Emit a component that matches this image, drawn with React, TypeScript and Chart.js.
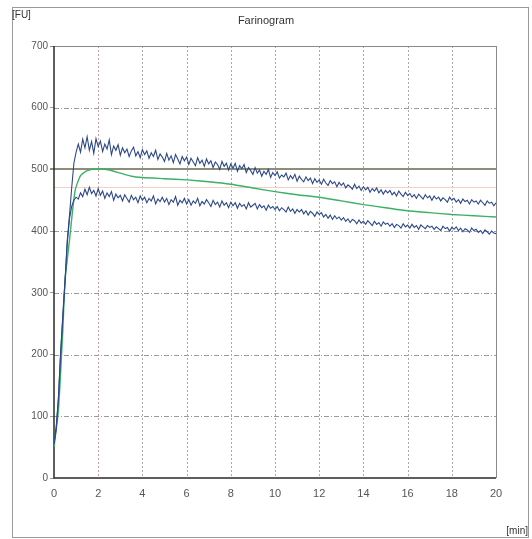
import React, { useEffect, useRef } from "react";
import { Chart, registerables } from "chart.js";
Chart.register(...registerables);

const titleText = "Farinogram";
const yUnit = "[FU]";
const xUnit = "[min]";
const yGridValues = [100, 200, 300, 400, 500, 600];
const xGridValues = [2, 4, 6, 8, 10, 12, 14, 16, 18];
const consistencyLine = 500;
const toleranceLine = 472;

const times = [
  0,
  0.1, 0.2, 0.3, 0.4, 0.5, 0.6, 0.7, 0.8, 0.9, 1.0,
  1.1, 1.2, 1.3, 1.4, 1.5, 1.6, 1.7, 1.8, 1.9, 2.0,
  2.1, 2.2, 2.3, 2.4, 2.5, 2.6, 2.7, 2.8, 2.9, 3.0,
  3.1, 3.2, 3.3, 3.4, 3.5, 3.6, 3.7, 3.8, 3.9, 4.0,
  4.1, 4.2, 4.3, 4.4, 4.5, 4.6, 4.7, 4.8, 4.9, 5.0,
  5.1, 5.2, 5.3, 5.4, 5.5, 5.6, 5.7, 5.8, 5.9, 6.0,
  6.1, 6.2, 6.3, 6.4, 6.5, 6.6, 6.7, 6.8, 6.9, 7.0,
  7.1, 7.2, 7.3, 7.4, 7.5, 7.6, 7.7, 7.8, 7.9, 8.0,
  8.1, 8.2, 8.3, 8.4, 8.5, 8.6, 8.7, 8.8, 8.9, 9.0,
  9.1, 9.2, 9.3, 9.4, 9.5, 9.6, 9.7, 9.8, 9.9, 10.0,
  10.1, 10.2, 10.3, 10.4, 10.5, 10.6, 10.7, 10.8, 10.9, 11.0,
  11.1, 11.2, 11.3, 11.4, 11.5, 11.6, 11.7, 11.8, 11.9, 12.0,
  12.1, 12.2, 12.3, 12.4, 12.5, 12.6, 12.7, 12.8, 12.9, 13.0,
  13.1, 13.2, 13.3, 13.4, 13.5, 13.6, 13.7, 13.8, 13.9, 14.0,
  14.1, 14.2, 14.3, 14.4, 14.5, 14.6, 14.7, 14.8, 14.9, 15.0,
  15.1, 15.2, 15.3, 15.4, 15.5, 15.6, 15.7, 15.8, 15.9, 16.0,
  16.1, 16.2, 16.3, 16.4, 16.5, 16.6, 16.7, 16.8, 16.9, 17.0,
  17.1, 17.2, 17.3, 17.4, 17.5, 17.6, 17.7, 17.8, 17.9, 18.0,
  18.1, 18.2, 18.3, 18.4, 18.5, 18.6, 18.7, 18.8, 18.9, 19.0,
  19.1, 19.2, 19.3, 19.4, 19.5, 19.6, 19.7, 19.8, 19.9, 20.0,
];

const upperBand = [
  55,
  80, 130, 200, 265, 320, 385, 425, 470, 510, 528,
  541, 528, 549, 535, 553, 531, 545, 526, 550, 537,
  546, 529, 541, 533, 548, 524, 538, 531, 540, 523,
  535, 527, 533, 521, 530, 536, 522, 529, 519, 532,
  524, 530, 518, 527, 521, 531, 516, 525, 520, 513,
  526, 515, 522, 511, 524, 517, 509, 521, 514, 520,
  508, 518, 512, 506, 519, 510, 515, 505, 517, 509,
  514, 503, 512, 508, 500, 513, 505, 510, 499, 509,
  502, 510, 497, 506, 501, 508, 495, 503, 498, 492,
  503, 494, 499, 489, 497, 492, 500, 487, 495, 490,
  496, 486, 491, 488, 494, 483, 490, 485, 492, 481,
  489, 484, 480, 488, 482, 486, 477, 485, 479, 483,
  476, 484, 478, 474, 482, 477, 480, 472, 479, 474,
  478, 470, 475, 472, 468, 476, 469, 473, 466, 472,
  467, 471, 463, 469, 465, 470, 462, 467, 460, 466,
  462, 466, 459, 463, 457, 465, 460, 456, 463, 458,
  461, 455, 459, 453, 460, 456, 452, 459, 454, 457,
  450, 457, 452, 455, 449, 454, 451, 447, 455, 450,
  453, 447, 451, 445, 452, 448, 450, 444, 451, 447,
  449, 444, 450, 446, 442, 449, 445, 447, 441, 446,
];

const lowerBand = [
  55,
  82, 128, 205, 260, 318, 380, 420, 440, 450, 455,
  452, 462, 456, 468, 459, 471, 461, 466, 457, 469,
  458, 465, 453, 462, 456, 464, 450, 460, 454, 458,
  449, 459, 453, 447, 458, 451, 455, 446, 457, 450,
  455, 446, 453, 449, 457, 444, 452, 448, 455, 447,
  453, 443, 451, 447, 456, 442, 450, 446, 453, 444,
  451, 442, 449, 445, 453, 441, 448, 444, 451, 446,
  440, 450, 443, 447, 439, 449, 442, 446, 438, 447,
  441, 446, 437, 445, 440, 443, 436, 446, 439, 442,
  445, 436, 443, 438, 441, 434, 442, 437, 440, 435,
  440, 433, 438, 435, 431, 439, 432, 436, 429, 435,
  431, 435, 428, 433, 426, 432, 429, 424, 431, 427,
  430, 423, 427, 421, 426, 419, 425, 420, 423, 418,
  422, 416, 420, 414, 419, 417, 412, 418, 413, 416,
  411, 417, 413, 409, 416, 411, 414, 408, 415, 411,
  413, 408, 412, 406, 411, 409, 405, 412, 407, 410,
  405, 411, 406, 409, 403, 410, 407, 404, 409, 406,
  408, 403, 407, 404, 401, 408, 404, 406, 400, 406,
  403, 407, 401, 405, 399, 404, 402, 398, 405, 401,
  403, 398, 401, 396, 402, 399, 395, 400, 397, 396,
];

const medianTimes = [
  0, 0.2, 0.4, 0.5, 0.7, 0.95, 1.2, 1.5, 2, 2.5, 3, 3.5, 4, 5, 6, 7, 8, 9, 10,
  11, 12, 13, 14, 15, 16, 17, 18, 19, 20,
];
const medianCurve = [
  50, 110, 240, 320, 385, 465, 490, 498, 501, 499, 494, 489, 487, 485, 483,
  480, 476, 470, 464, 459, 455, 449, 443, 438, 433, 430, 427, 425, 423,
];

const FONT = "'Liberation Sans Narrow', 'Arial Narrow', 'Liberation Sans', sans-serif";

const decorPlugin = {
  id: "decor",
  beforeDatasetsDraw(chart: any) {
    const { ctx, chartArea: a, scales } = chart;
    const x = scales.x;
    const y = scales.y;
    ctx.save();
    ctx.lineWidth = 1;
    ctx.strokeStyle = "#9a9a9a";
    ctx.setLineDash([5, 2, 1, 2]);
    for (const v of yGridValues) {
      const py = Math.round(y.getPixelForValue(v)) + 0.5;
      ctx.beginPath();
      ctx.moveTo(a.left, py);
      ctx.lineTo(a.right, py);
      ctx.stroke();
    }
    ctx.setLineDash([2, 2]);
    for (const v of xGridValues) {
      const px = Math.round(x.getPixelForValue(v)) + 0.5;
      ctx.strokeStyle = v === 2 ? "#c9a0a8" : "#a8a8a8";
      ctx.beginPath();
      ctx.moveTo(px, a.top);
      ctx.lineTo(px, a.bottom);
      ctx.stroke();
    }
    ctx.setLineDash([]);
    ctx.strokeStyle = "#f2d2c4";
    let py = Math.round(y.getPixelForValue(toleranceLine)) + 0.5;
    ctx.beginPath();
    ctx.moveTo(a.left, py);
    ctx.lineTo(a.right, py);
    ctx.stroke();
    ctx.strokeStyle = "#8e8e78";
    ctx.lineWidth = 2;
    py = Math.round(y.getPixelForValue(consistencyLine));
    ctx.beginPath();
    ctx.moveTo(a.left - 4, py);
    ctx.lineTo(a.right, py);
    ctx.stroke();
    ctx.lineWidth = 1;
    ctx.strokeStyle = "#8a8a8a";
    ctx.beginPath();
    ctx.moveTo(a.left - 4, Math.round(a.top) + 0.5);
    ctx.lineTo(a.right, Math.round(a.top) + 0.5);
    ctx.moveTo(Math.round(a.right) + 0.5, a.top);
    ctx.lineTo(Math.round(a.right) + 0.5, a.bottom);
    ctx.stroke();
    ctx.strokeStyle = "#2a2a2a";
    ctx.lineWidth = 1.5;
    ctx.beginPath();
    ctx.moveTo(a.left, a.top);
    ctx.lineTo(a.left, a.bottom);
    ctx.lineTo(a.right, a.bottom);
    ctx.stroke();
    ctx.restore();
  },
  afterDraw(chart: any) {
    const { ctx } = chart;
    ctx.save();
    ctx.strokeStyle = "#9a9a9a";
    ctx.lineWidth = 1;
    ctx.strokeRect(12.5, 7.5, 516, 530);
    ctx.fillStyle = "#333";
    ctx.font = `10px ${FONT}`;
    ctx.textBaseline = "middle";
    ctx.textAlign = "left";
    ctx.fillText(yUnit, 12, 15);
    ctx.textAlign = "right";
    ctx.fillText(xUnit, 528, 531);
    ctx.restore();
  },
};

export default function App() {
  const ref = useRef<HTMLCanvasElement>(null);
  useEffect(() => {
    if (!ref.current) return;
    const chart = new Chart(ref.current, {
      type: "line",
      data: {
        datasets: [
          {
            label: "upper",
            data: times.map((t, i) => ({ x: t, y: upperBand[i] })),
            borderColor: "#2d4889",
            borderWidth: 1.1,
            pointRadius: 0,
            tension: 0,
          },
          {
            label: "lower",
            data: times.map((t, i) => ({ x: t, y: lowerBand[i] })),
            borderColor: "#2d4889",
            borderWidth: 1.1,
            pointRadius: 0,
            tension: 0,
          },
          {
            label: "median",
            data: medianTimes.map((t, i) => ({ x: t, y: medianCurve[i] })),
            borderColor: "#3cb067",
            borderWidth: 1.4,
            pointRadius: 0,
            tension: 0.2,
          },
        ],
      },
      options: {
        responsive: false,
        animation: false,
        layout: { padding: { left: 0, right: 0, top: 0, bottom: 0 } },
        plugins: {
          legend: { display: false },
          tooltip: { enabled: false },
          title: {
            display: true,
            text: titleText,
            color: "#333",
            font: { family: FONT, size: 11, weight: "normal" },
            padding: { top: 14, bottom: 18.8 },
          },
        },
        scales: {
          x: {
            type: "linear",
            min: 0,
            max: 20,
            grid: { display: true, drawOnChartArea: false, drawTicks: false },
            border: { display: false },
            ticks: {
              stepSize: 2,
              color: "#555",
              padding: 9,
              maxRotation: 0,
              font: { family: FONT, size: 11 },
            },
            afterFit: (s: any) => {
              s.height = 61;
            },
          },
          y: {
            type: "linear",
            min: 0,
            max: 700,
            grid: { display: true, drawOnChartArea: false, tickLength: 4, color: "#999" },
            border: { display: false },
            ticks: {
              stepSize: 100,
              color: "#555",
              padding: 2,
              font: { family: FONT, size: 10 },
            },
            afterFit: (s: any) => {
              s.width = 54;
            },
          },
          yRight: {
            type: "linear",
            position: "right",
            min: 0,
            max: 700,
            grid: { display: false },
            border: { display: false },
            ticks: { display: false },
            afterFit: (s: any) => {
              s.width = 36;
            },
          },
        },
      },
      plugins: [decorPlugin],
    });
    return () => chart.destroy();
  }, []);
  return (
    <div style={{ position: "absolute", left: 0, top: 0, width: 532, height: 539, background: "#fff" }}>
      <canvas ref={ref} width={532} height={539} />
    </div>
  );
}
